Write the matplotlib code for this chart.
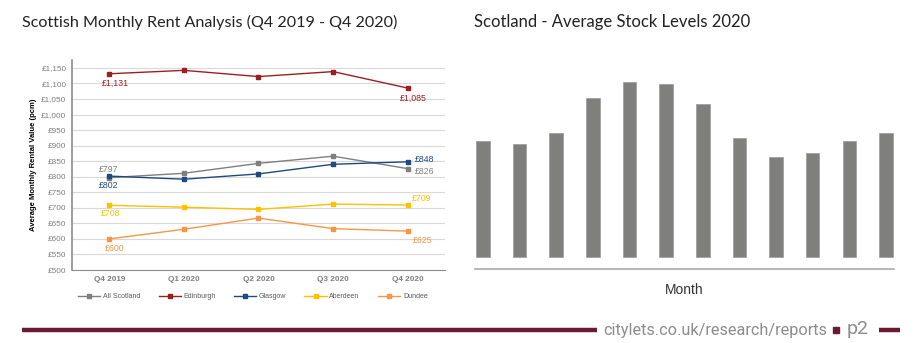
import matplotlib.pyplot as plt
import numpy as np

plt.rcParams['font.family'] = ['Lato', 'DejaVu Sans']

# 租金数据 (pcm)
quarters = ["Q4 2019", "Q1 2020", "Q2 2020", "Q3 2020", "Q4 2020"]
all_scotland = [797, 811, 843, 866, 826]
edinburgh = [1131, 1142, 1122, 1138, 1085]
glasgow = [802, 792, 809, 840, 848]
aberdeen = [708, 702, 695, 712, 709]
dundee = [600, 631, 667, 633, 625]

# 库存水平 (相对值, 无刻度)
months = ["Jan", "Feb", "Mar", "Apr", "May", "Jun",
          "Jul", "Aug", "Sep", "Oct", "Nov", "Dec"]
stock = [116, 113, 124, 159, 175, 173, 153, 119, 100, 104, 116, 124]

series = [
    ("All Scotland", all_scotland, "#7f7f7f"),
    ("Edinburgh", edinburgh, "#9c1f1f"),
    ("Glasgow", glasgow, "#1f4a7e"),
    ("Aberdeen", aberdeen, "#ffc000"),
    ("Dundee", dundee, "#f79646"),
]

arial = ["Liberation Sans", "DejaVu Sans"]

fig = plt.figure(figsize=(9.24, 3.43), dpi=100)

# 左图: 折线
ax = fig.add_axes([0.0779, 0.2128, 0.4037, 0.612])
x = np.arange(len(quarters))
for name, vals, col in series:
    ax.plot(x, vals, color=col, lw=1.0, marker="s", ms=3.5, label=name)

ax.set_xlim(-0.5, 4.5)
ax.set_ylim(500, 1175)
ax.set_yticks(np.arange(500, 1151, 50))
ax.set_yticklabels(["£{:,}".format(v) for v in range(500, 1151, 50)], family=arial)
ax.set_xticks(x)
ax.set_xticklabels(quarters, fontweight="bold", family=arial)
ax.tick_params(axis="both", length=0, labelsize=5.9, colors="#7f7f7f", pad=4)
ax.grid(axis="y", color="#d9d9d9", lw=0.8)
ax.set_axisbelow(True)
for s in ["top", "right"]:
    ax.spines[s].set_visible(False)
ax.spines["left"].set_color("#8c8c8c")
ax.spines["left"].set_linewidth(1.2)
ax.spines["bottom"].set_color("#8c8c8c")
ax.set_ylabel("Average Monthly Rental Value (pcm)", fontsize=5.5,
              fontweight="bold", family=arial, labelpad=3)

# 数值标签
def lab(i, vals, col, dx, dy, ha="center"):
    ax.annotate("£{:,}".format(vals[i]), (i, vals[i]), xytext=(dx, dy),
                textcoords="offset pixels", color=col, fontsize=6.3,
                ha=ha, va="center", family=arial)

lab(0, edinburgh, "#9c1f1f", 6, -10)
lab(4, edinburgh, "#9c1f1f", 6, -10)
lab(0, all_scotland, "#7f7f7f", -1, 8)
lab(0, glasgow, "#1f4a7e", -1, -9)
lab(4, glasgow, "#1f4a7e", 7, 2, ha="left")
lab(4, all_scotland, "#7f7f7f", 7, -3, ha="left")
lab(0, aberdeen, "#ffc000", 1, -8)
lab(4, aberdeen, "#ffc000", 4, 7, ha="left")
lab(0, dundee, "#f79646", 5, -10)
lab(4, dundee, "#f79646", 5, -9, ha="left")

leg = ax.legend(loc="upper center", bbox_to_anchor=(0.485, -0.08), ncol=5,
                frameon=False, prop={"family": arial, "size": 5},
                handlelength=3.2, columnspacing=2.6, handletextpad=0.4)
for t in leg.get_texts():
    t.set_color("#595959")

fig.text(0.024, 0.935, "Scottish Monthly Rent Analysis (Q4 2019 - Q4 2020)",
         fontsize=11.6, color="#222222", va="center")

# 右图: 柱状
ax2 = fig.add_axes([0.514, 0.2149, 0.4535, 0.5664])
xb = np.arange(len(months))
ax2.bar(xb, stock, width=0.37, color="#7f807e", edgecolor="#9a9a9a", lw=0.5)
ax2.set_xlim(-0.22, 11.22)
ax2.set_ylim(-12.6, 181.7)
ax2.set_xticks([])
ax2.set_yticks([])
for s in ["top", "right", "left"]:
    ax2.spines[s].set_visible(False)
ax2.spines["bottom"].set_color("#aaaaaa")
ax2.spines["bottom"].set_linewidth(1.2)
ax2.set_xlabel("Month", fontsize=10, color="#333333", labelpad=10, family=arial)

fig.text(0.513, 0.935, "Scotland - Average Stock Levels 2020",
         fontsize=12, color="#222222", va="center")

# 页脚
maroon = "#6b1a34"
fig.add_artist(plt.Line2D([22 / 924, 597 / 924], [1 - 330 / 343] * 2,
                          color=maroon, lw=3.2, solid_capstyle="butt"))
fig.text(603 / 924, 1 - 330 / 343, "citylets.co.uk/research/reports",
         fontsize=11.7, color="#8c8c8c", va="center", family=["Roboto", "DejaVu Sans"])
fig.add_artist(plt.Rectangle((833 / 924, 1 - 333 / 343), 6 / 924, 6 / 343,
                             color=maroon, transform=fig.transFigure))
fig.text(847 / 924, 1 - 329 / 343, "p2", fontsize=14, color="#8c8c8c",
         va="center", family=["Roboto", "DejaVu Sans"])
fig.add_artist(plt.Line2D([879 / 924, 900 / 924], [1 - 330 / 343] * 2,
                          color=maroon, lw=3.2, solid_capstyle="butt"))

plt.savefig("out.png", dpi=100)
